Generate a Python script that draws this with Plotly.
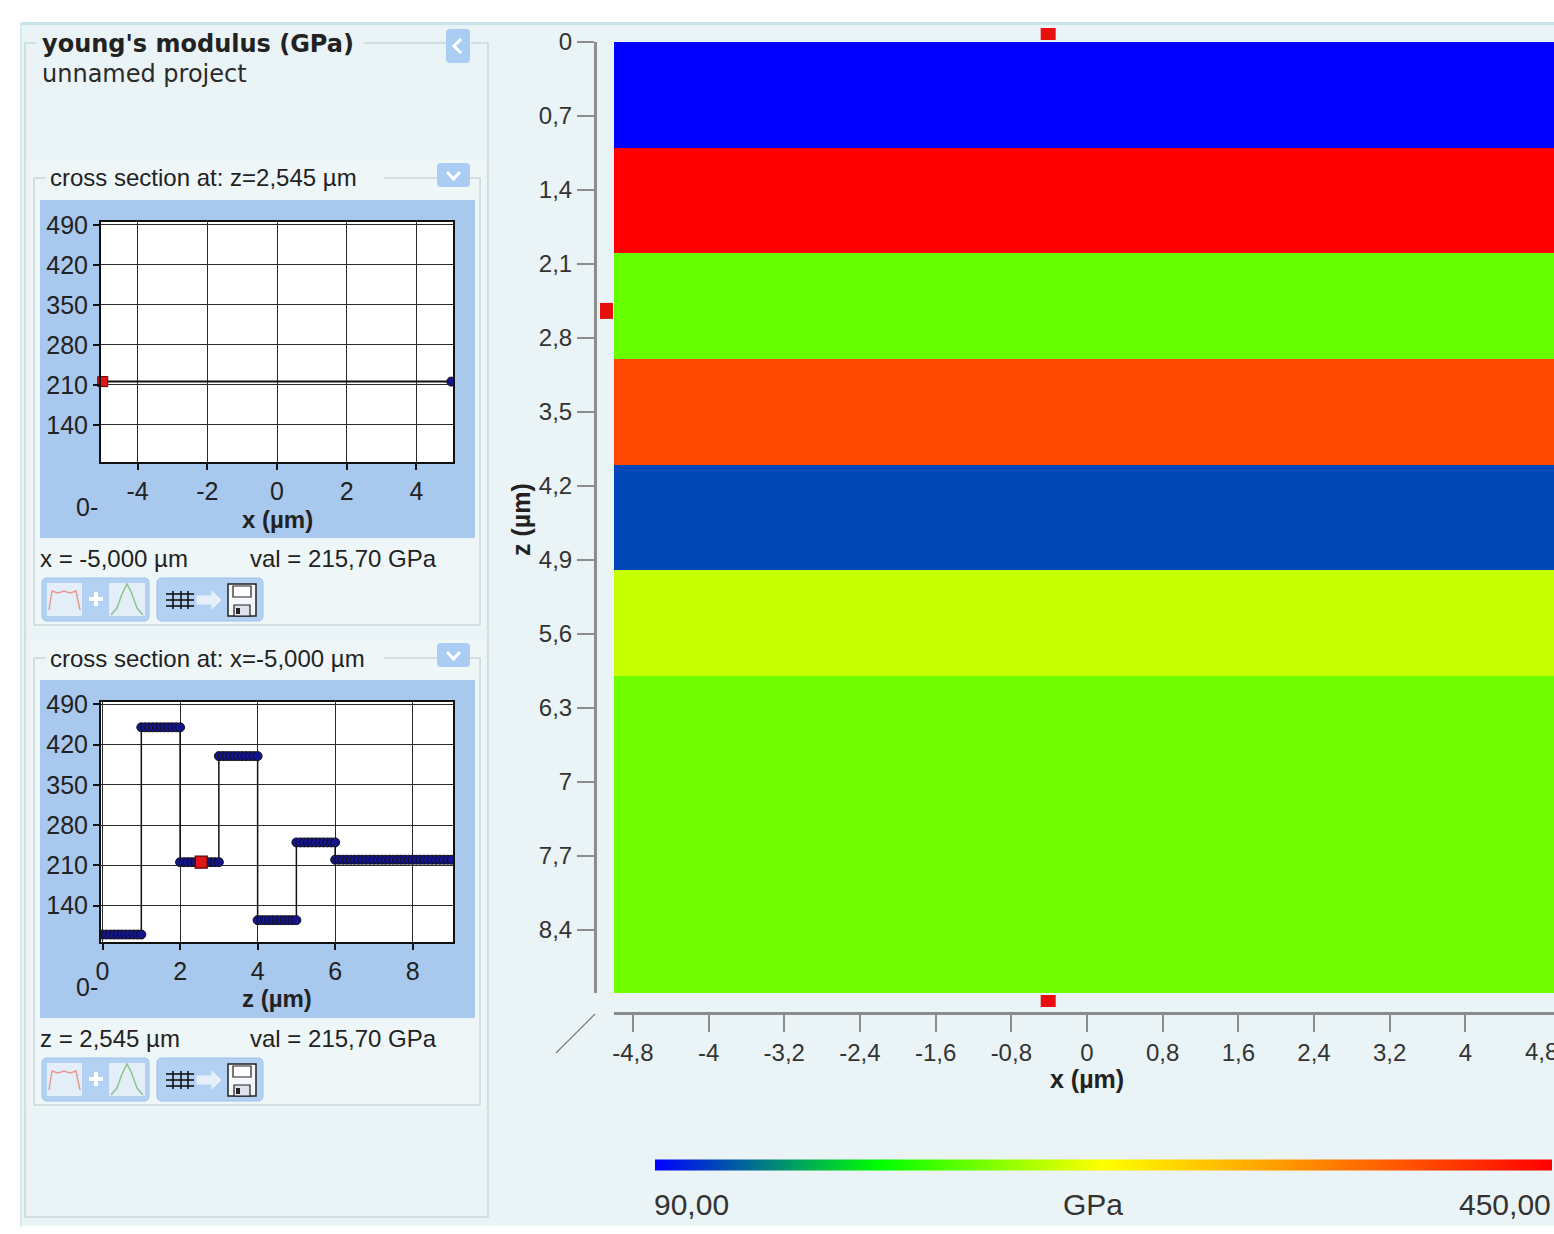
import numpy as np
import plotly.graph_objects as go

W, H = 1554, 1234

# ---- layer stack: z edges (µm) and Young's modulus of each layer (GPa) ----
layer_edges = [0, 1, 2, 3, 4, 5, 6, 9]
layer_modulus = [90.0, 450.0, 215.7, 400.0, 115.0, 250.0, 220.0]
x_extent = [-5.0, 5.0]

cbar_min, cbar_max = 90.0, 450.0
color_stops = [[0.0, "#0000FF"], [0.25, "#00FF00"], [0.5, "#FFFF00"], [1.0, "#FF0000"]]

# ---- cross-section cursor ----
cut_z = 2.545
cut_x = -5.0
cut_val = 215.7
handle_x = -0.41          # x-slider handle drawn above/below the map

# horizontal cut (value along x at z = cut_z)
hcut_x = [-5.0, 5.0]
hcut_val = [215.7, 215.7]

# mesh spacing of the vertical cut samples (µm)
node_step = 0.1

# ---- tick labels ----
map_x_ticks = [-4.8, -4.0, -3.2, -2.4, -1.6, -0.8, 0.0, 0.8, 1.6, 2.4, 3.2, 4.0, 4.8]
map_x_text = ["-4,8", "-4", "-3,2", "-2,4", "-1,6", "-0,8", "0", "0,8", "1,6", "2,4", "3,2", "4", "4,8"]
map_z_ticks = [0, 0.7, 1.4, 2.1, 2.8, 3.5, 4.2, 4.9, 5.6, 6.3, 7.0, 7.7, 8.4]
map_z_text = ["0", "0,7", "1,4", "2,1", "2,8", "3,5", "4,2", "4,9", "5,6", "6,3", "7", "7,7", "8,4"]
val_ticks = [140, 210, 280, 350, 420, 490]
hcut_ticks = [-4, -2, 0, 2, 4]
hcut_text = ["-4", "-2", "0", "2", "4"]
vcut_ticks = [0, 2, 4, 6, 8]

# vertical cut sampled on the layer mesh
prof_z, prof_v = [], []
for z0, z1, v in zip(layer_edges[:-1], layer_edges[1:], layer_modulus):
    n = int(round((z1 - z0) / node_step)) + 1
    prof_z += list(np.linspace(z0, z1, n))
    prof_v += [v] * n

FONT = "Liberation Sans, Arial, sans-serif"
TXT = "#222222"
APP_BG = "#EAF3F5"
FRAME = "#C9D8DC"
PANEL = "#A8C8EE"
BTN = "#B3D1F2"

# map x axis: the plot area runs past the right window edge
MAP_X_RANGE = [-5.0, 4.937]
MAP_L, MAP_R = 614, W


def X(p):
    return p / W


def Y(p):
    return 1 - p / H


def map_px(xv):
    return MAP_L + (xv - MAP_X_RANGE[0]) / (MAP_X_RANGE[1] - MAP_X_RANGE[0]) * (MAP_R - MAP_L)


shapes = []
annotations = []


def rect(x0, y0, x1, y1, fill=None, line=None, lw=1.0, layer="below"):
    shapes.append(dict(type="rect", xref="paper", yref="paper",
                       x0=X(x0), x1=X(x1), y0=Y(y1), y1=Y(y0),
                       fillcolor=fill or "rgba(0,0,0,0)",
                       line=dict(color=line or "rgba(0,0,0,0)", width=lw if line else 0),
                       layer=layer))


def rrect(x0, y0, x1, y1, r, fill, line=None, lw=1.0, layer="below"):
    def p(x, y):
        return f"{X(x):.6f},{Y(y):.6f}"
    d = (f"M{p(x0 + r, y0)} L{p(x1 - r, y0)} Q{p(x1, y0)} {p(x1, y0 + r)} "
         f"L{p(x1, y1 - r)} Q{p(x1, y1)} {p(x1 - r, y1)} L{p(x0 + r, y1)} "
         f"Q{p(x0, y1)} {p(x0, y1 - r)} L{p(x0, y0 + r)} Q{p(x0, y0)} {p(x0 + r, y0)} Z")
    shapes.append(dict(type="path", xref="paper", yref="paper", path=d,
                       fillcolor=fill, line=dict(color=line or "rgba(0,0,0,0)", width=lw if line else 0),
                       layer=layer))


def poly(pts, color, width=1.0, layer="above", closed=False, fill=None):
    d = "M" + " L".join(f"{X(x):.6f},{Y(y):.6f}" for x, y in pts)
    if closed:
        d += " Z"
    shapes.append(dict(type="path", xref="paper", yref="paper", path=d,
                       fillcolor=fill or "rgba(0,0,0,0)",
                       line=dict(color=color, width=width), layer=layer))


def text(x, y, s, size, anchor="left", bold=False, family=FONT, color=TXT, angle=0):
    annotations.append(dict(xref="paper", yref="paper", x=X(x), y=Y(y), text=f"<b>{s}</b>" if bold else s,
                            showarrow=False, xanchor=anchor, yanchor="middle", textangle=angle,
                            font=dict(family=family, size=size, color=color)))


# ---- application background ----
rect(20, 22, W, 1226, fill=APP_BG)
rect(20, 22, W, 25, fill="#C7E3E9")
rect(20, 22, 22, 1226, fill="#D3EAEE")

# ---- left panel frame ----
poly([(36, 43), (25, 43), (25, 1217), (488, 1217), (488, 43), (471, 43)], FRAME, 1.5, layer="below")
poly([(364, 43), (446, 43)], FRAME, 1.5, layer="below")
rrect(446, 29, 470, 63, 4, "#A9CDF3")
poly([(461, 39), (454, 46), (461, 53)], "white", 3)
text(40, 44, "young's modulus (GPa)", 24, bold=True, family="DejaVu Sans, Verdana, sans-serif")
text(40, 74, "unnamed project", 24, family="DejaVu Sans, Verdana, sans-serif", color="#2a2a2a")


def cut_panel(top, title, readout_left, readout_right, plot_box):
    # group box holding one cross-section plot
    rect(30, top - 18, 485, top + 450, fill="#EFF6F8")
    poly([(46, top), (34, top), (34, top + 447), (480, top + 447), (480, top), (470, top)], FRAME, 1.5, layer="below")
    poly([(384, top), (437, top)], FRAME, 1.5, layer="below")
    rrect(437, top - 15, 470, top + 9, 4, "#A9CDF3")
    poly([(447, top - 6), (453.5, top + 1), (460, top - 6)], "white", 3)
    text(48, top, title, 24)
    # plot panel with white plotting area
    rect(40, top + 22, 475, top + 360, fill=PANEL)
    rect(*plot_box, fill="white")
    text(38, top + 380, readout_left, 24)
    text(248, top + 380, readout_right, 24)
    # "show fit" button
    b0 = top + 400
    rrect(42, b0, 149, b0 + 43, 5, BTN, line="#9FC2EC", lw=1)
    rect(47, b0 + 5, 82, b0 + 38, fill="#E4EEF9")
    poly([(49, b0 + 32), (52, b0 + 13), (58, b0 + 15), (64, b0 + 13), (70, b0 + 15), (76, b0 + 13), (80, b0 + 32)],
         "#E99A8E", 1.5)
    poly([(89, b0 + 21), (103, b0 + 21)], "white", 4)
    poly([(96, b0 + 14), (96, b0 + 28)], "white", 4)
    rect(109, b0 + 5, 145, b0 + 38, fill="#E4EEF9")
    poly([(111, b0 + 37), (117, b0 + 30), (122, b0 + 16), (127, b0 + 6), (132, b0 + 16), (137, b0 + 30), (143, b0 + 37)],
         "#8CC58C", 1.5)
    # "export" button
    rrect(157, b0, 263, b0 + 43, 5, BTN, line="#9FC2EC", lw=1)
    for yy in (b0 + 16, b0 + 22, b0 + 28):
        poly([(166, yy), (194, yy)], "#111111", 1.6)
    for xx in (173, 181, 188):
        poly([(xx, b0 + 13), (xx, b0 + 31)], "#111111", 1.6)
    poly([(197, b0 + 18), (212, b0 + 18), (212, b0 + 13), (221, b0 + 22), (212, b0 + 31), (212, b0 + 26), (197, b0 + 26)],
         "#E7F0FA", 1, closed=True, fill="#E7F0FA")
    rect(228, b0 + 6, 256, b0 + 38, fill="#F4F7FB", line="#222222", lw=1.5, layer="above")
    rect(233, b0 + 8, 251, b0 + 19, fill="white", line="#222222", lw=1.2, layer="above")
    rect(234, b0 + 27, 250, b0 + 38, fill="#DDE4EE", line="#222222", lw=1.2, layer="above")
    rect(236, b0 + 30, 240, b0 + 36, fill="#222222", layer="above")


HC_BOX = (101, 222, 453, 462)
VC_BOX = (101, 702, 453, 942)
cut_panel(178, "cross section at: z=2,545 µm", "x = -5,000 µm", "val = 215,70 GPa", HC_BOX)
cut_panel(658, "cross section at: x=-5,000 µm", "z = 2,545 µm", "val = 215,70 GPa", VC_BOX)

fig = go.Figure()

# ---- layer map ----
fig.add_trace(go.Heatmap(
    x=x_extent, y=layer_edges, z=[[v] for v in layer_modulus],
    zmin=cbar_min, zmax=cbar_max, colorscale=color_stops,
    xaxis="x", yaxis="y", hoverinfo="skip",
    colorbar=dict(orientation="h", thickness=11, len=897, lenmode="pixels",
                  x=X(655), xanchor="left", y=Y(1165), yanchor="middle",
                  xpad=0, ypad=0, outlinewidth=0, showticklabels=False, ticks=""),
))

# ---- horizontal cut ----
fig.add_trace(go.Scatter(x=hcut_x, y=hcut_val, mode="lines", line=dict(color="#111111", width=2),
                         xaxis="x2", yaxis="y2", hoverinfo="skip", showlegend=False))
fig.add_trace(go.Scatter(x=[hcut_x[-1]], y=[hcut_val[-1]], mode="markers",
                         marker=dict(color="#14148C", size=9, line=dict(color="#111111", width=1)),
                         xaxis="x2", yaxis="y2", cliponaxis=True, hoverinfo="skip", showlegend=False))
fig.add_trace(go.Scatter(x=[cut_x], y=[cut_val], mode="markers",
                         marker=dict(symbol="square", color="#E0161A", size=10, line=dict(color="#5A0000", width=1)),
                         xaxis="x2", yaxis="y2", cliponaxis=False, hoverinfo="skip", showlegend=False))

# ---- vertical cut ----
fig.add_trace(go.Scatter(x=prof_z, y=prof_v, mode="lines+markers", line=dict(color="#111111", width=1.5),
                         marker=dict(color="#14148C", size=9, line=dict(color="#111111", width=1)),
                         xaxis="x3", yaxis="y3", hoverinfo="skip", showlegend=False))
fig.add_trace(go.Scatter(x=[cut_z], y=[cut_val], mode="markers",
                         marker=dict(symbol="square", color="#E0161A", size=12, line=dict(color="#5A0000", width=1.2)),
                         xaxis="x3", yaxis="y3", cliponaxis=False, hoverinfo="skip", showlegend=False))

# ---- cursor handles on the map ----
for y0, y1 in ((28, 40), (995, 1007)):
    shapes.append(dict(type="rect", xref="x", yref="paper", xsizemode="pixel", xanchor=handle_x,
                       x0=-7.5, x1=7.5, y0=Y(y1), y1=Y(y0), fillcolor="#E8100E", line=dict(width=0), layer="above"))
shapes.append(dict(type="rect", xref="paper", yref="y", ysizemode="pixel", yanchor=cut_z,
                   x0=X(600), x1=X(613), y0=-8, y1=8, fillcolor="#E8100E", line=dict(width=0), layer="above"))

# corner stroke between the two map axes
poly([(556, 1053), (595, 1014)], "#7A7A7A", 1.2)

# last map tick label sits on the window edge
text(map_px(map_x_ticks[-1]), 1051, map_x_text[-1], 24, anchor="center", color="#333333")

# ---- axis titles and colour bar labels ----
text(1087, 1079, "x (µm)", 25, anchor="center", bold=True)
annotations.append(dict(xref="paper", yref="paper", x=X(521), y=Y(520), text="<b>z (µm)</b>", showarrow=False,
                        textangle=-90, xanchor="center", yanchor="middle", font=dict(family=FONT, size=25, color=TXT)))
text(277, 519, "x (µm)", 24, anchor="center", bold=True)
text(277, 999, "z (µm)", 24, anchor="center", bold=True)
text(100, 507, "0-", 25, anchor="right")
text(100, 987, "0-", 25, anchor="right")
text(652, 1204, "90,00", 30, color="#333333")
text(1093, 1204, "GPa", 30, anchor="center", color="#333333")
text(1553, 1204, "450,00", 30, anchor="right", color="#333333")

map_axis = dict(showgrid=False, zeroline=False, showline=True, linecolor="#8C8C8C", linewidth=3,
                ticks="outside", ticklen=17, tickwidth=2, tickcolor="#8C8C8C",
                tickfont=dict(family=FONT, size=24, color="#333333"))
cut_axis = dict(showgrid=True, gridcolor="#2b2b2b", gridwidth=1, zeroline=False, showline=True,
                linecolor="#111111", linewidth=2, mirror=True, ticks="outside", ticklen=6, tickwidth=1.5,
                tickcolor="#111111", tickfont=dict(family=FONT, size=25, color=TXT))

fig.update_layout(
    width=W, height=H, margin=dict(l=0, r=0, t=0, b=0, pad=0, autoexpand=False),
    paper_bgcolor="white", plot_bgcolor="white", showlegend=False,
    xaxis=dict(domain=[X(MAP_L), X(MAP_R)], range=MAP_X_RANGE, anchor="free", position=Y(1013),
               tickvals=map_x_ticks[:-1], ticktext=map_x_text[:-1], **map_axis),
    yaxis=dict(domain=[Y(993), Y(42)], range=[9.0, 0.0], anchor="free", position=X(595),
               tickvals=map_z_ticks, ticktext=map_z_text, **map_axis),
    xaxis2=dict(domain=[X(HC_BOX[0]), X(HC_BOX[2])], range=[-5.05, 5.05], anchor="y2",
                tickvals=hcut_ticks, ticktext=hcut_text, **cut_axis),
    yaxis2=dict(domain=[Y(HC_BOX[3]), Y(HC_BOX[1])], range=[75, 495], anchor="x2", tickvals=val_ticks, **cut_axis),
    xaxis3=dict(domain=[X(VC_BOX[0]), X(VC_BOX[2])], range=[-0.04, 9.04], anchor="y3", tickvals=vcut_ticks, **cut_axis),
    yaxis3=dict(domain=[Y(VC_BOX[3]), Y(VC_BOX[1])], range=[77, 494], anchor="x3", tickvals=val_ticks, **cut_axis),
    shapes=shapes, annotations=annotations,
)

fig.write_html("out.html")
